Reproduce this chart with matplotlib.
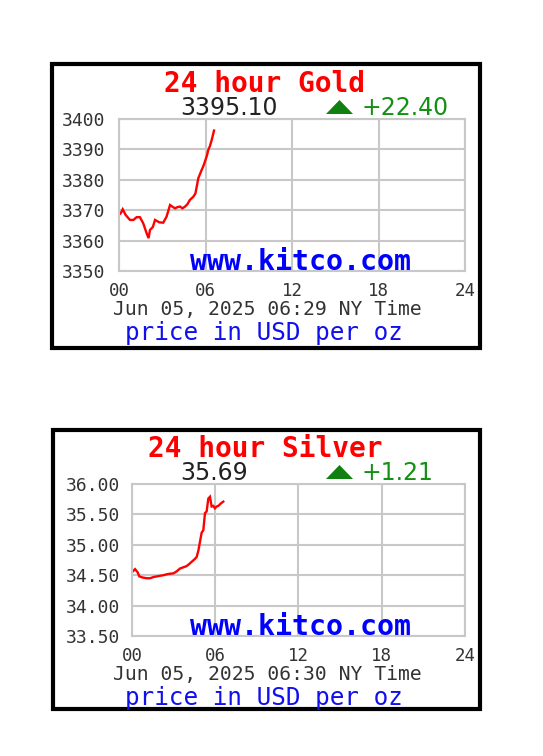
import matplotlib
matplotlib.use("Agg")
import matplotlib.pyplot as plt
from matplotlib.patches import Polygon, Rectangle

W, H = 543, 756

# ---------------- data ----------------
gold_hours = [0.0, 0.12, 0.26, 0.45, 0.76, 1.0, 1.22, 1.45, 1.68, 1.91, 2.05, 2.15, 2.35, 2.5,
              2.8, 3.07, 3.3, 3.54, 3.88, 4.05, 4.23, 4.4, 4.58, 4.75, 4.92, 5.15, 5.3,
              5.39, 5.5, 5.73, 5.85, 5.96, 6.1, 6.19, 6.3, 6.43, 6.52, 6.59]
gold_values = [3368.5, 3369.0, 3370.3, 3368.5, 3366.8, 3366.8, 3367.7, 3367.7, 3365.7, 3362.5,
               3360.8, 3363.5, 3364.5, 3366.8, 3366.0, 3365.9, 3367.9, 3371.7, 3370.6, 3371.0,
               3371.2, 3370.6, 3371.2, 3372.0, 3373.4, 3374.4, 3375.5, 3377.7, 3380.5, 3383.2,
               3384.5, 3386.0, 3388.0, 3389.8, 3391.0, 3393.1, 3394.8, 3396.2]

silver_hours = [0.0, 0.22, 0.4, 0.53, 0.8, 1.06, 1.3, 1.55, 1.78, 2.26, 2.6, 2.98, 3.2, 3.46,
                3.7, 3.94, 4.1, 4.30, 4.5, 4.66, 4.78, 4.90, 5.02, 5.14, 5.26, 5.38, 5.50,
                5.62, 5.74, 5.86, 5.98, 6.1, 6.22, 6.4, 6.58]
silver_values = [34.55, 34.60, 34.55, 34.48, 34.46, 34.45, 34.45, 34.47, 34.48, 34.50, 34.52,
                 34.53, 34.56, 34.61, 34.63, 34.65, 34.68, 34.72, 34.76, 34.80, 34.90, 35.05,
                 35.20, 35.24, 35.52, 35.55, 35.76, 35.79, 35.63, 35.64, 35.60, 35.63, 35.64,
                 35.68, 35.71]

x_ticks = [0, 6, 12, 18, 24]
x_tick_labels = ["00", "06", "12", "18", "24"]

gold_yticks = [3350, 3360, 3370, 3380, 3390, 3400]
gold_ytick_labels = ["3350", "3360", "3370", "3380", "3390", "3400"]
silver_yticks = [33.5, 34.0, 34.5, 35.0, 35.5, 36.0]
silver_ytick_labels = ["33.50", "34.00", "34.50", "35.00", "35.50", "36.00"]

panels = [
    dict(title="24 hour Gold", price="3395.10", change="+22.40",
         stamp="Jun 05, 2025 06:29 NY Time",
         hours=gold_hours, values=gold_values, yticks=gold_yticks,
         ylabels=gold_ytick_labels, ylim=(3350, 3400),
         plot=(119, 119, 465, 271), border=(52, 64, 480, 348), dy=0,
         price_x=229, ypad=10.0),
    dict(title="24 hour Silver", price="35.69", change="+1.21",
         stamp="Jun 05, 2025 06:30 NY Time",
         hours=silver_hours, values=silver_values, yticks=silver_yticks,
         ylabels=silver_ytick_labels, ylim=(33.5, 36.0),
         plot=(132, 484, 465, 636), border=(53, 429.5, 480, 708.5), dy=365,
         price_x=214, ypad=8.6),
]

# ---------------- drawing ----------------
fig = plt.figure(figsize=(W / 100, H / 100), dpi=100)
fig.patch.set_facecolor("white")


def fx(x):
    return x / W


def fy(y):
    return 1 - y / H


GRID = "#c8c8c8"
MONO = "DejaVu Sans Mono"
TXT = "#333333"

for p in panels:
    l, t, r, b = p["plot"]
    ax = fig.add_axes([fx(l), fy(b), (r - l) / W, (b - t) / H])
    ax.plot(p["hours"], p["values"], color="#ff0000", lw=1.7, solid_joinstyle="miter")
    ax.set_xlim(0, 24)
    ax.set_ylim(*p["ylim"])
    ax.set_xticks(x_ticks)
    ax.set_xticklabels(x_tick_labels, fontfamily=MONO, fontsize=12.5, color=TXT)
    ax.set_yticks(p["yticks"])
    ax.set_yticklabels(p["ylabels"], fontfamily=MONO, fontsize=13, color=TXT)
    ax.tick_params(axis="x", length=0, pad=8.0)
    ax.tick_params(axis="y", length=0, pad=p["ypad"])
    ax.grid(True, color=GRID, lw=1.5)
    ax.set_axisbelow(True)
    for s in ax.spines.values():
        s.set_color(GRID)
        s.set_linewidth(1.5)

    dy = p["dy"]
    # border
    bl, bt, br, bb = p["border"]
    fig.add_artist(Rectangle((fx(bl), fy(bb)), (br - bl) / W, (bb - bt) / H,
                             transform=fig.transFigure, fill=False,
                             edgecolor="black", lw=3.0))
    # title
    fig.text(fx(265), fy(92 + dy), p["title"], ha="center", va="baseline",
             fontfamily=MONO, fontweight="bold", fontsize=20, color="#ff0000")
    # price
    fig.text(fx(p["price_x"]), fy(115 + dy), p["price"], ha="center", va="baseline",
             fontfamily="DejaVu Sans", fontsize=17, color="#222222")
    # triangle
    tri = [(fx(326), fy(114 + dy)), (fx(353), fy(114 + dy)), (fx(339.5), fy(100 + dy))]
    fig.add_artist(Polygon(tri, closed=True, transform=fig.transFigure,
                           facecolor="#108010", edgecolor="none"))
    fig.text(fx(362), fy(115 + dy), p["change"], ha="left", va="baseline",
             fontfamily="DejaVu Sans", fontsize=17, color="#149014")
    # watermark
    fig.text(fx(301), fy(270 + dy), "www.kitco.com", ha="center", va="baseline",
             fontfamily=MONO, fontweight="bold", fontsize=20.3, color="#0000ff")
    # timestamp
    fig.text(fx(267.5), fy(315 + dy), p["stamp"], ha="center", va="baseline",
             fontfamily=MONO, fontsize=14.2, color=TXT)
    # units
    fig.text(fx(264), fy(340 + dy), "price in USD per oz", ha="center", va="baseline",
             fontfamily=MONO, fontsize=17.5, color="#1010ee")

fig.savefig("out.png", dpi=100, facecolor="white")
